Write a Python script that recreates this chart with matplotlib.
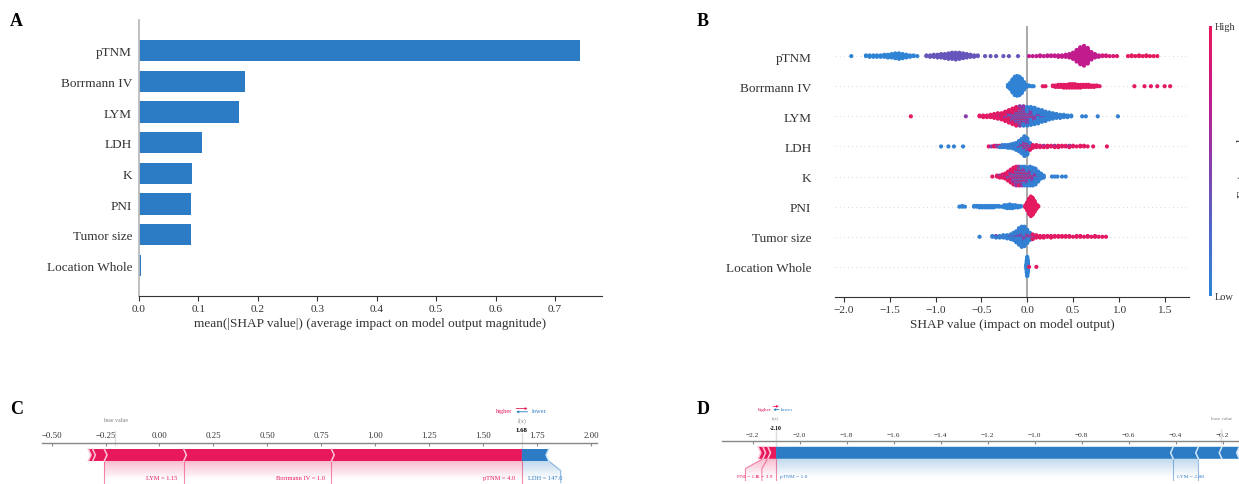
import numpy as np
import matplotlib
matplotlib.use("Agg")
import matplotlib.pyplot as plt
from matplotlib.patches import Polygon, PathPatch
from matplotlib.path import Path
from matplotlib.colors import LinearSegmentedColormap, to_rgb
from matplotlib.ticker import MultipleLocator, FuncFormatter
from matplotlib.cm import ScalarMappable

plt.rcParams["font.family"] = ["Liberation Serif", "DejaVu Serif"]

# ---- data -------------------------------------------------------------
features = ["pTNM", "Borrmann IV", "LYM", "LDH", "K", "PNI", "Tumor size", "Location Whole"]
mean_abs_shap = [0.742, 0.178, 0.168, 0.106, 0.089, 0.0875, 0.0868, 0.003]

# beeswarm rows: (shap value, number of samples, scaled feature value)
swarm_ptnm = [
    (-1.92, 1, 0.02),
    (-1.76, 2, 0.02), (-1.72, 3, 0.02), (-1.68, 3, 0.02), (-1.64, 3, 0.02), (-1.60, 3, 0.02),
    (-1.56, 4, 0.02), (-1.52, 5, 0.02), (-1.48, 6, 0.02), (-1.44, 8, 0.02), (-1.40, 9, 0.02),
    (-1.36, 7, 0.02), (-1.32, 5, 0.02), (-1.28, 3, 0.02), (-1.24, 2, 0.02), (-1.20, 1, 0.02),
    (-1.10, 2, 0.35), (-1.06, 3, 0.35), (-1.02, 4, 0.35), (-0.98, 5, 0.35), (-0.94, 6, 0.35),
    (-0.90, 7, 0.35), (-0.86, 9, 0.35), (-0.82, 10, 0.35), (-0.78, 11, 0.35), (-0.74, 10, 0.35),
    (-0.70, 8, 0.35), (-0.66, 6, 0.35), (-0.62, 4, 0.35), (-0.58, 3, 0.35), (-0.54, 2, 0.35),
    (-0.46, 1, 0.35), (-0.40, 1, 0.35), (-0.34, 1, 0.35), (-0.26, 1, 0.35), (-0.20, 1, 0.35),
    (-0.10, 1, 0.35),
    (0.02, 1, 0.72), (0.06, 1, 0.72), (0.10, 1, 0.72), (0.14, 2, 0.72), (0.18, 1, 0.72),
    (0.22, 2, 0.72), (0.26, 2, 0.72), (0.30, 2, 0.72), (0.34, 3, 0.72), (0.38, 3, 0.72),
    (0.42, 4, 0.72), (0.46, 6, 0.72), (0.50, 10, 0.72), (0.54, 18, 0.72), (0.58, 26, 0.72),
    (0.62, 30, 0.72), (0.66, 24, 0.72), (0.70, 12, 0.72), (0.74, 6, 0.72), (0.78, 3, 0.72),
    (0.82, 2, 0.85), (0.86, 2, 0.85), (0.90, 1, 0.85), (0.94, 1, 0.88), (0.98, 1, 0.90),
    (1.10, 1, 0.97), (1.14, 2, 0.97), (1.18, 1, 0.97), (1.22, 2, 0.97), (1.26, 1, 0.97),
    (1.30, 2, 0.97), (1.34, 1, 0.97), (1.38, 1, 0.97), (1.42, 1, 0.97),
]
swarm_borrmann = [
    (-0.21, 4, 0.03), (-0.185, 10, 0.03), (-0.16, 20, 0.03), (-0.135, 28, 0.03), (-0.11, 30, 0.03),
    (-0.085, 28, 0.03), (-0.06, 22, 0.03), (-0.035, 12, 0.03), (-0.01, 4, 0.03), (0.02, 2, 0.03),
    (0.05, 1, 0.03), (0.07, 1, 0.03),
    (0.17, 1, 0.95), (0.20, 1, 0.95), (0.28, 2, 0.95), (0.31, 3, 0.95), (0.34, 4, 0.95),
    (0.37, 4, 0.95), (0.40, 5, 0.95), (0.43, 5, 0.95), (0.46, 6, 0.95), (0.49, 6, 0.95),
    (0.52, 6, 0.95), (0.55, 5, 0.95), (0.58, 5, 0.95), (0.61, 4, 0.95), (0.64, 4, 0.95),
    (0.67, 4, 0.95), (0.70, 3, 0.95), (0.73, 3, 0.95), (0.76, 2, 0.95), (0.79, 1, 0.95),
    (1.17, 1, 0.95), (1.28, 1, 0.95), (1.35, 1, 0.95), (1.42, 1, 0.95), (1.50, 1, 0.95),
    (1.56, 1, 0.95),
]
swarm_lym = [
    (-1.27, 1, 0.95), (-0.67, 1, 0.5),
    (-0.52, 2, 0.95), (-0.48, 3, 0.95), (-0.44, 3, 0.95), (-0.40, 4, 0.95),
    (-0.36, 5, 0.95), (-0.36, 1, 0.5),
    (-0.32, 6, 0.95), (-0.32, 2, 0.5),
    (-0.28, 7, 0.95), (-0.28, 2, 0.5),
    (-0.24, 9, 0.95), (-0.24, 3, 0.5), (-0.24, 1, 0.05),
    (-0.20, 11, 0.95), (-0.20, 4, 0.5), (-0.20, 2, 0.05),
    (-0.16, 12, 0.95), (-0.16, 6, 0.5), (-0.16, 3, 0.05),
    (-0.12, 12, 0.95), (-0.12, 8, 0.5), (-0.12, 5, 0.05),
    (-0.08, 9, 0.95), (-0.08, 10, 0.5), (-0.08, 7, 0.05),
    (-0.04, 7, 0.95), (-0.04, 10, 0.5), (-0.04, 9, 0.05),
    (0.00, 4, 0.95), (0.00, 10, 0.5), (0.00, 11, 0.05),
    (0.04, 3, 0.95), (0.04, 8, 0.5), (0.04, 13, 0.05),
    (0.08, 2, 0.95), (0.08, 6, 0.5), (0.08, 14, 0.05),
    (0.12, 1, 0.95), (0.12, 4, 0.5), (0.12, 14, 0.05),
    (0.16, 3, 0.5), (0.16, 13, 0.05),
    (0.20, 2, 0.5), (0.20, 11, 0.05),
    (0.24, 1, 0.5), (0.24, 9, 0.05),
    (0.28, 8, 0.05), (0.32, 6, 0.05), (0.36, 5, 0.05), (0.40, 4, 0.05), (0.44, 3, 0.05),
    (0.48, 2, 0.05), (0.60, 1, 0.05), (0.64, 1, 0.05), (0.77, 1, 0.05), (0.99, 1, 0.05),
]
swarm_ldh = [
    (-0.94, 1, 0.05), (-0.86, 1, 0.05), (-0.80, 1, 0.05), (-0.70, 1, 0.05),
    (-0.42, 1, 0.95), (-0.39, 1, 0.5), (-0.36, 2, 0.95),
    (-0.33, 1, 0.95), (-0.33, 1, 0.5),
    (-0.30, 2, 0.05), (-0.30, 1, 0.95),
    (-0.27, 3, 0.05), (-0.27, 1, 0.5),
    (-0.24, 3, 0.05), (-0.24, 1, 0.95),
    (-0.21, 4, 0.05), (-0.21, 1, 0.5),
    (-0.18, 5, 0.05), (-0.18, 1, 0.95),
    (-0.15, 7, 0.05), (-0.15, 1, 0.5),
    (-0.12, 9, 0.05), (-0.12, 2, 0.5),
    (-0.09, 12, 0.05), (-0.09, 3, 0.5), (-0.09, 1, 0.95),
    (-0.06, 16, 0.05), (-0.06, 4, 0.5), (-0.06, 2, 0.95),
    (-0.03, 20, 0.05), (-0.03, 6, 0.5), (-0.03, 4, 0.95),
    (0.00, 14, 0.05), (0.00, 6, 0.5), (0.00, 5, 0.95),
    (0.03, 4, 0.05), (0.03, 3, 0.5), (0.03, 4, 0.95),
    (0.06, 1, 0.05), (0.06, 1, 0.5), (0.06, 3, 0.95),
    (0.10, 1, 0.5), (0.10, 3, 0.95), (0.14, 3, 0.95), (0.18, 2, 0.95), (0.18, 1, 0.5),
    (0.22, 3, 0.95), (0.26, 2, 0.95), (0.30, 2, 0.95), (0.30, 1, 0.5), (0.34, 3, 0.95),
    (0.38, 2, 0.95), (0.42, 2, 0.95), (0.46, 2, 0.95), (0.46, 1, 0.5), (0.50, 2, 0.95),
    (0.54, 1, 0.95), (0.58, 2, 0.95), (0.62, 2, 0.95), (0.66, 1, 0.95), (0.72, 1, 0.95),
    (0.87, 1, 0.95),
]
swarm_k = [
    (-0.38, 1, 0.95), (-0.33, 2, 0.95),
    (-0.30, 2, 0.95), (-0.30, 1, 0.55),
    (-0.27, 3, 0.95), (-0.27, 1, 0.55),
    (-0.24, 4, 0.95), (-0.24, 2, 0.55),
    (-0.21, 6, 0.95), (-0.21, 3, 0.55), (-0.21, 1, 0.05),
    (-0.18, 8, 0.95), (-0.18, 4, 0.55), (-0.18, 2, 0.05),
    (-0.15, 9, 0.95), (-0.15, 6, 0.55), (-0.15, 3, 0.05),
    (-0.12, 8, 0.95), (-0.12, 7, 0.55), (-0.12, 5, 0.05),
    (-0.09, 7, 0.95), (-0.09, 7, 0.55), (-0.09, 6, 0.05),
    (-0.06, 6, 0.95), (-0.06, 7, 0.55), (-0.06, 7, 0.05),
    (-0.03, 5, 0.95), (-0.03, 7, 0.55), (-0.03, 8, 0.05),
    (0.00, 4, 0.95), (0.00, 6, 0.55), (0.00, 9, 0.05),
    (0.03, 3, 0.95), (0.03, 6, 0.55), (0.03, 11, 0.05),
    (0.06, 2, 0.95), (0.06, 5, 0.55), (0.06, 12, 0.05),
    (0.09, 1, 0.95), (0.09, 4, 0.55), (0.09, 12, 0.05),
    (0.12, 2, 0.55), (0.12, 9, 0.05),
    (0.15, 1, 0.55), (0.15, 5, 0.05),
    (0.18, 3, 0.05), (0.27, 1, 0.05), (0.30, 1, 0.05), (0.33, 1, 0.05), (0.38, 1, 0.05),
    (0.42, 1, 0.05),
]
swarm_pni = [
    (-0.74, 1, 0.03), (-0.71, 2, 0.03), (-0.68, 1, 0.03),
    (-0.58, 2, 0.03), (-0.55, 2, 0.03), (-0.52, 3, 0.03), (-0.49, 3, 0.03), (-0.46, 3, 0.03),
    (-0.43, 3, 0.03), (-0.40, 3, 0.03), (-0.37, 3, 0.03), (-0.34, 2, 0.03), (-0.31, 2, 0.03),
    (-0.28, 1, 0.03), (-0.25, 4, 0.03), (-0.22, 5, 0.03), (-0.19, 6, 0.03), (-0.16, 5, 0.03),
    (-0.13, 4, 0.03), (-0.10, 3, 0.03), (-0.07, 2, 0.03),
    (-0.02, 4, 0.97), (0.00, 12, 0.97), (0.02, 22, 0.97), (0.04, 28, 0.97), (0.06, 24, 0.97),
    (0.08, 16, 0.97), (0.10, 7, 0.97), (0.12, 2, 0.97),
]
swarm_tumor = [
    (-0.52, 1, 0.05),
    (-0.38, 2, 0.05), (-0.34, 2, 0.05), (-0.34, 1, 0.45), (-0.30, 3, 0.05),
    (-0.26, 3, 0.05), (-0.26, 1, 0.45),
    (-0.22, 4, 0.05), (-0.22, 1, 0.45),
    (-0.18, 5, 0.05), (-0.18, 2, 0.45),
    (-0.15, 8, 0.05), (-0.15, 2, 0.45),
    (-0.12, 12, 0.05), (-0.12, 3, 0.45),
    (-0.09, 18, 0.05), (-0.09, 4, 0.45),
    (-0.06, 22, 0.05), (-0.06, 5, 0.45),
    (-0.03, 20, 0.05), (-0.03, 5, 0.45), (-0.03, 1, 0.95),
    (0.00, 12, 0.05), (0.00, 4, 0.45), (0.00, 2, 0.95),
    (0.03, 5, 0.05), (0.03, 3, 0.45), (0.03, 2, 0.95),
    (0.06, 2, 0.05), (0.06, 2, 0.45), (0.06, 3, 0.95),
    (0.10, 1, 0.45), (0.10, 3, 0.95),
    (0.14, 3, 0.95), (0.18, 3, 0.95), (0.22, 2, 0.95), (0.26, 3, 0.95), (0.30, 2, 0.95),
    (0.34, 2, 0.95), (0.38, 2, 0.95), (0.42, 2, 0.95), (0.46, 2, 0.95), (0.50, 1, 0.95),
    (0.54, 2, 0.95), (0.58, 2, 0.95), (0.62, 1, 0.95), (0.66, 2, 0.95), (0.70, 1, 0.95),
    (0.74, 2, 0.95), (0.78, 1, 0.95), (0.82, 1, 0.95), (0.86, 1, 0.95),
]
swarm_location = [
    (-0.008, 6, 0.03), (-0.004, 16, 0.03), (0.0, 24, 0.03), (0.004, 16, 0.03), (0.008, 6, 0.03),
    (0.02, 1, 0.95), (0.10, 1, 0.95),
]
swarm_rows = [swarm_ptnm, swarm_borrmann, swarm_lym, swarm_ldh,
              swarm_k, swarm_pni, swarm_tumor, swarm_location]

# single-patient explanations (force plots)
c_fx = 1.68
c_pos_names = ["pTNM", "Borrmann IV", "LYM", "K", "Tumor size"]
c_pos_vals = ["4.0", "1.0", "1.15", "", ""]
c_pos_eff = [0.883, 0.685, 0.368, 0.054, 0.020]
c_neg_names = ["LDH"]
c_neg_vals = ["147.0"]
c_neg_eff = [0.125]

d_fx = -2.10
d_pos_names = ["K", "PNI", "LDH"]
d_pos_vals = ["3.9", "1.0", ""]
d_pos_eff = [0.035, 0.021, 0.020]
d_neg_names = ["pTNM", "LYM", "Borrmann IV", "Tumor size"]
d_neg_vals = ["1.0", "2.88", "", ""]
d_neg_eff = [1.690, 0.107, 0.100, 0.074]

# ---- style ------------------------------------------------------------
BLUE = "#2B7CC4"
RED = "#E8195A"
RED_LIGHT = "#FFC3D5"
BLUE_LIGHT = "#D1E6FA"
TXT = "#333333"
shap_cmap = LinearSegmentedColormap.from_list(
    "red_blue", ["#2C86D6", "#4F66C6", "#8A3CA8", "#C8178A", "#E8195A"])

W, H = 1239, 485
fig = plt.figure(figsize=(W / 100, H / 100), dpi=100)


def px_axes(x0, y0, x1, y1):
    return fig.add_axes([x0 / W, 1 - y1 / H, (x1 - x0) / W, (y1 - y0) / H])


# ---- A: mean |SHAP| bar chart ------------------------------------------
axA = px_axes(139, 21, 602, 297)
ypos = np.arange(len(features))[::-1]
axA.barh(ypos, mean_abs_shap, height=0.7, color=BLUE)
axA.set_yticks(ypos, features)
axA.set_xlim(0, 0.779)
axA.set_ylim(-1, 8)
axA.xaxis.set_major_locator(MultipleLocator(0.1))
axA.xaxis.set_major_formatter(FuncFormatter(lambda v, p: f"{v:.1f}"))
axA.tick_params(axis="y", length=0, labelsize=9.5, pad=5, labelcolor=TXT)
axA.tick_params(axis="x", labelsize=8.2, length=3.5, pad=2, color=TXT, labelcolor=TXT)
axA.set_xlabel("mean(|SHAP value|) (average impact on model output magnitude)",
               fontsize=9.5, labelpad=3, color=TXT)
for s in ["top", "right"]:
    axA.spines[s].set_visible(False)
axA.spines["left"].set_color("#bbbbbb")
axA.spines["left"].set_linewidth(1.3)
axA.spines["bottom"].set_color(TXT)

# ---- B: beeswarm -------------------------------------------------------
def swarm_layout(entries):
    groups = {}
    for x, n, c in entries:
        groups.setdefault(x, []).append([n, c])
    xs, ys, cs = [], [], []
    for x, grp in groups.items():
        seq = []
        while any(g[0] > 0 for g in grp):
            for g in grp:
                if g[0] > 0:
                    seq.append(g[1])
                    g[0] -= 1
        for layer, c in enumerate(seq):
            xs.append(x)
            ys.append(np.ceil(layer / 2) * ((layer % 2) * 2 - 1))
            cs.append(c)
    ys = np.array(ys)
    ys *= 0.9 * 0.4 / (np.max(np.abs(ys)) + 1)
    return np.array(xs), ys, np.array(cs)


axB = px_axes(835, 27, 1189, 298)
for i, entries in enumerate(swarm_rows):
    row = len(features) - 1 - i
    axB.axhline(row, color="#cccccc", lw=0.6, dashes=(1, 4), zorder=-1)
    xs, ys, cs = swarm_layout(entries)
    axB.scatter(xs, row + ys, c=cs, cmap=shap_cmap, vmin=0, vmax=1, s=9,
                linewidths=0, zorder=3)
axB.axvline(0, color="#999999", lw=1.2, zorder=-1)
axB.set_yticks(ypos, features)
axB.set_xlim(-2.098, 1.766)
axB.set_ylim(-1, 8)
axB.xaxis.set_major_locator(MultipleLocator(0.5))
axB.xaxis.set_major_formatter(FuncFormatter(lambda v, p: f"{v:.1f}".replace("-", "\u2212")))
axB.tick_params(axis="y", length=0, labelsize=9.5, pad=17, labelcolor=TXT)
axB.tick_params(axis="x", labelsize=8.2, length=3.5, pad=2, color=TXT, labelcolor=TXT)
axB.set_xlabel("SHAP value (impact on model output)", fontsize=9.5, labelpad=3, color=TXT)
for s in ["top", "right", "left"]:
    axB.spines[s].set_visible(False)
axB.spines["bottom"].set_color(TXT)

cax = px_axes(1208.5, 27, 1212, 297)
cb = fig.colorbar(ScalarMappable(cmap=shap_cmap), cax=cax, ticks=[0, 1])
cb.set_ticklabels(["Low", "High"])
cb.outline.set_visible(False)
cax.tick_params(length=0, labelsize=7.5, pad=2, labelcolor=TXT)
fig.text(1237.5 / W, 1 - 162 / H, "Feature value", rotation=90, ha="left", va="center",
         fontsize=9.5, color=TXT)

# ---- C / D: force plots -------------------------------------------------
renderer = fig.canvas.get_renderer()


def draw_force(ax, fx, pos, neg, xlim, step, dec, tick_fs, fs, offset, hl_off):
    wb = 0.1
    sep = (xlim[1] - xlim[0]) / 200
    for (names, vals, effs), sign, col, light in [(pos, 1, RED, RED_LIGHT),
                                                  (neg, -1, BLUE, BLUE_LIGHT)]:
        ind = sign * sep
        near = fx
        for i, e in enumerate(effs):
            far = near - sign * e
            lo, hi = min(near, far), max(near, far)
            if i == 0:
                pts = [[far, 0], [near, 0], [near, wb], [far, wb], [far + ind, wb / 2]]
            elif sign > 0:
                pts = [[lo, 0], [hi, 0], [hi + ind * 0.9, wb / 2], [hi, wb], [lo, wb],
                       [lo + ind * 0.9, wb / 2]]
            else:
                pts = [[hi, 0], [lo, 0], [lo + ind * 0.9, wb / 2], [lo, wb], [hi, wb],
                       [hi + ind * 0.9, wb / 2]]
            ax.add_patch(Polygon(pts, closed=True, facecolor=col, lw=0, zorder=2))
            ax.plot([far, far + ind, far], [0, wb / 2, wb], color=light, lw=1.1, zorder=3)
            near = far

        # feature labels under the bar
        inv = ax.transData.inverted()
        start = fx
        pre = fx
        box_end = fx
        bound = fx
        if sign > 0:
            ax.plot([fx, fx], [0, -0.18], lw=0.8, alpha=0.5, color=col, clip_on=False)
        for name, v, e in zip(names, vals, effs):
            bound = bound - sign * e
            if not v:
                break
            t = ax.text(start - sign * offset, -0.15, f"{name} = {v}", fontsize=fs, color=col,
                        ha="right" if sign > 0 else "left", va="baseline")
            bb = t.get_window_extent(renderer).transformed(inv)
            edge = bb.x0 if sign > 0 else bb.x1
            if sign * edge > sign * bound:
                ax.plot([bound, bound], [0, -0.18], lw=0.8, alpha=0.5, color=col, clip_on=False)
                start = bound
                box_end = bound
            else:
                box_end = edge - sign * offset
                ax.plot([bound, box_end, box_end], [0, -0.08, -0.18], lw=0.8, alpha=0.5,
                        color=col, clip_on=False)
                start = box_end
            pre = bound

        path = Path([[fx, 0], [pre, 0], [box_end, -0.08], [box_end, -0.2], [fx, -0.2], [fx, 0]])
        patch = PathPatch(path, facecolor="none", edgecolor="none")
        ax.add_patch(patch)
        f = np.clip(np.linspace(0, 1, 60) * 2, 0, 1)[:, None, None]
        grad = np.array(to_rgb(col))[None, None, :] * (1 - f) + f
        grad = np.repeat(grad, 2, axis=1)
        im = ax.imshow(grad, extent=[min(fx, box_end), max(fx, box_end), -0.31, 0],
                       origin="upper", aspect="auto", alpha=0.3, interpolation="bilinear",
                       zorder=1)
        im.set_clip_path(patch)

    # base value and model output markers
    base = fx - sum(pos[2]) + sum(neg[2])
    ax.plot([base, base], [0.13, 0.25], lw=1.0, color="#dddddd", clip_on=False)
    ax.text(base, 0.33, "base value", fontsize=fs * 0.93, alpha=0.5, ha="center",
            bbox=dict(facecolor="white", edgecolor="none", pad=0.5))
    ax.plot([fx, fx], [0, 0.24], lw=1.0, color="#dddddd", clip_on=False, zorder=1)
    ax.text(fx, 0.25, f"{fx:.2f}", fontsize=fs * 1.05, fontweight="bold", ha="center",
            bbox=dict(facecolor="white", edgecolor="none", pad=0.5))
    ax.text(fx, 0.33, "f(x)", fontsize=fs * 0.93, alpha=0.5, ha="center",
            bbox=dict(facecolor="white", edgecolor="none", pad=0.5))
    ax.text(fx - hl_off, 0.405, "higher", fontsize=fs, color=RED, ha="right")
    ax.text(fx + hl_off, 0.405, "lower", fontsize=fs, color=BLUE, ha="left")
    # the two small direction arrows between "higher" and "lower"
    al = hl_off * 0.6
    arrow = dict(arrowstyle="-|>", lw=0.6, mutation_scale=3, shrinkA=0, shrinkB=0)
    ax.annotate("", xy=(fx + al, 0.437), xytext=(fx - al, 0.437),
                arrowprops=dict(arrow, color=RED), annotation_clip=False)
    ax.annotate("", xy=(fx - al, 0.41), xytext=(fx + al, 0.41),
                arrowprops=dict(arrow, color=BLUE), annotation_clip=False)

    ax.set_xlim(*xlim)
    ax.set_ylim(-0.5, 0.15)
    ax.xaxis.set_major_locator(MultipleLocator(step))
    ax.xaxis.set_major_formatter(FuncFormatter(lambda v, p: f"{v:.{dec}f}".replace("-", "\u2212")))
    ax.tick_params(axis="x", top=True, bottom=False, labeltop=True, labelbottom=False,
                   direction="in", length=2.5, pad=3, labelsize=tick_fs,
                   color="#888888", labelcolor=TXT)
    ax.tick_params(axis="y", left=False, labelleft=False)
    for key, spine in ax.spines.items():
        spine.set_visible(key == "top")
    ax.spines["top"].set_color("#888888")
    ax.spines["top"].set_linewidth(1.0)


axC = px_axes(41.7, 444, 597, 522)
draw_force(axC, c_fx,
           (c_pos_names, c_pos_vals, c_pos_eff), (c_neg_names, c_neg_vals, c_neg_eff),
           (-0.546, 2.028), 0.25, 2, 6.3, 4.6, 0.03, 0.044)

axD = px_axes(722, 441.8, 1260, 519.8)
draw_force(axD, d_fx,
           (d_pos_names, d_pos_vals, d_pos_eff), (d_neg_names, d_neg_vals, d_neg_eff),
           (-2.33, -0.041), 0.2, 1, 5.3, 3.9, 0.015, 0.02)

# ---- panel letters ----------------------------------------------------
for lab, x, y in [("A", 10, 22), ("B", 697, 22), ("C", 10, 410), ("D", 697, 410)]:
    fig.text(x / W, 1 - y / H, lab, fontsize=13, fontweight="bold", va="center", ha="left")

fig.savefig("out.png", dpi=100)
